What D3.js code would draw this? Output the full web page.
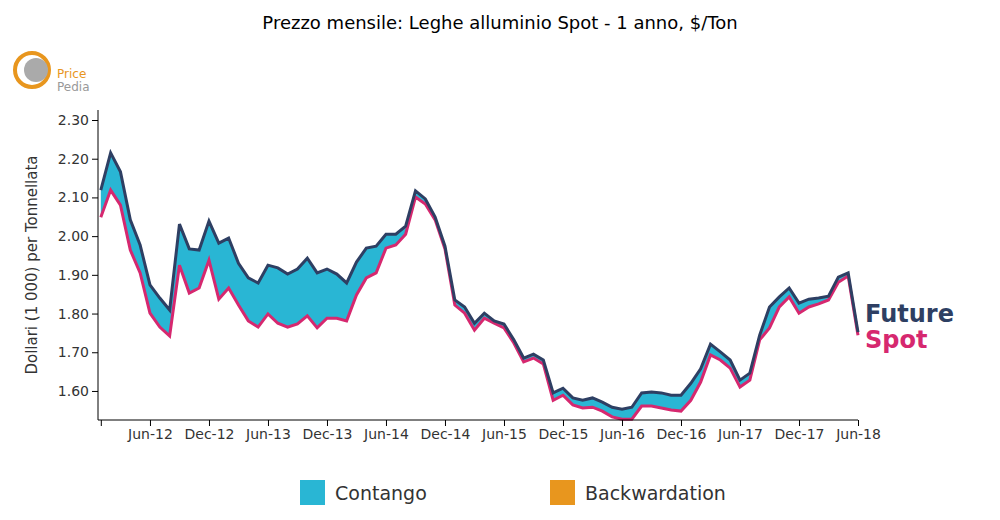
<!DOCTYPE html><html><head><meta charset="utf-8"><script src="https://cdn.jsdelivr.net/npm/d3@7"></script>
<style>body{margin:0;background:#fff;font-family:"DejaVu Sans",sans-serif}</style></head><body><svg id="c" width="1000" height="520"></svg>
<script>
const future=[2.119,2.215,2.166,2.042,1.977,1.874,1.840,1.809,2.031,1.967,1.964,2.039,1.982,1.995,1.930,1.892,1.879,1.925,1.918,1.902,1.915,1.943,1.905,1.915,1.902,1.879,1.933,1.969,1.974,2.005,2.005,2.026,2.117,2.096,2.049,1.974,1.835,1.817,1.775,1.801,1.781,1.773,1.732,1.685,1.695,1.680,1.595,1.607,1.582,1.576,1.582,1.571,1.558,1.553,1.558,1.595,1.597,1.595,1.589,1.589,1.620,1.657,1.721,1.701,1.680,1.628,1.646,1.744,1.817,1.843,1.866,1.827,1.837,1.840,1.845,1.894,1.905,1.752];
const spot=[2.049,2.119,2.080,1.964,1.905,1.801,1.765,1.742,1.925,1.853,1.866,1.938,1.837,1.866,1.822,1.781,1.765,1.799,1.775,1.765,1.773,1.794,1.763,1.788,1.788,1.781,1.848,1.892,1.905,1.969,1.977,2.005,2.101,2.083,2.042,1.967,1.822,1.801,1.757,1.788,1.775,1.763,1.724,1.675,1.685,1.670,1.576,1.589,1.564,1.556,1.558,1.548,1.533,1.527,1.527,1.561,1.561,1.556,1.551,1.548,1.576,1.623,1.693,1.680,1.659,1.610,1.628,1.732,1.763,1.817,1.843,1.801,1.817,1.825,1.835,1.881,1.897,1.744];
const xTickLabels=["Jun-12","Dec-12","Jun-13","Dec-13","Jun-14","Dec-14","Jun-15","Dec-15","Jun-16","Dec-16","Jun-17","Dec-17","Jun-18"];
const yTicks=[1.60,1.70,1.80,1.90,2.00,2.10,2.20,2.30];
const svg=d3.select("#c");
const x=d3.scaleLinear().domain([0,77]).range([100.8,858]);
const y=d3.scaleLinear().domain([1.525,2.30]).range([420,120]);
const idx=d3.range(future.length);
const cC="#29b6d4",cB="#e8961e",cF="#2e3f63",cS="#d6286f";
svg.append("path").datum(idx).attr("fill",cC).attr("d",d3.area().x(i=>x(i)).y0(i=>y(spot[i])).y1(i=>y(Math.max(spot[i],future[i]))));
svg.append("path").datum(idx).attr("fill",cB).attr("d",d3.area().x(i=>x(i)).y0(i=>y(future[i])).y1(i=>y(Math.max(spot[i],future[i]))));
svg.append("path").datum(spot).attr("fill","none").attr("stroke",cS).attr("stroke-width",3).attr("d",d3.line().x((d,i)=>x(i)).y(d=>y(d)));
svg.append("path").datum(future).attr("fill","none").attr("stroke",cF).attr("stroke-width",3).attr("d",d3.line().x((d,i)=>x(i)).y(d=>y(d)));
const xa=svg.append("g").attr("transform","translate(0,420)").call(d3.axisBottom(x).tickValues([0].concat(xTickLabels.map((d,i)=>5+6*i))).tickFormat(v=>v===0?"":xTickLabels[(v-5)/6]).tickSizeOuter(0));
xa.select(".domain").attr("d","M98,0H"+x(77));
const ya=svg.append("g").attr("transform","translate(98,0)").call(d3.axisLeft(y).tickValues(yTicks).tickFormat(d3.format(".2f")).tickSizeOuter(0));
ya.select(".domain").attr("d","M0,110V420");
svg.selectAll(".tick text").attr("font-size",14).attr("fill","#333").attr("font-family","DejaVu Sans");
svg.append("text").attr("x",500).attr("y",29).attr("text-anchor","middle").attr("font-size",18).text("Prezzo mensile: Leghe alluminio Spot - 1 anno, $/Ton");
svg.append("text").attr("transform","translate(37,265) rotate(-90)").attr("text-anchor","middle").attr("font-size",15).attr("fill","#333").text("Dollari (1 000) per Tonnellata");
svg.append("text").attr("x",865).attr("y",322).attr("font-size",24).attr("font-weight","bold").attr("fill",cF).text("Future");
svg.append("text").attr("x",865).attr("y",348).attr("font-size",24).attr("font-weight","bold").attr("fill",cS).text("Spot");
[[300,cC,"Contango"],[550,cB,"Backwardation"]].forEach(([lx,c,t])=>{svg.append("rect").attr("x",lx).attr("y",480).attr("width",25).attr("height",25).attr("fill",c);svg.append("text").attr("x",lx+35).attr("y",500).attr("font-size",19).attr("fill","#333").text(t);});
// logo
svg.append("circle").attr("cx",32).attr("cy",70).attr("r",17).attr("fill","none").attr("stroke","#e8961e").attr("stroke-width",4);
svg.append("circle").attr("cx",36).attr("cy",70).attr("r",12).attr("fill","#aaa");
svg.append("text").attr("x",57).attr("y",78).attr("font-size",12).attr("fill","#e8961e").text("Price");
svg.append("text").attr("x",57).attr("y",91).attr("font-size",12).attr("fill","#999").text("Pedia");
</script></body></html>
